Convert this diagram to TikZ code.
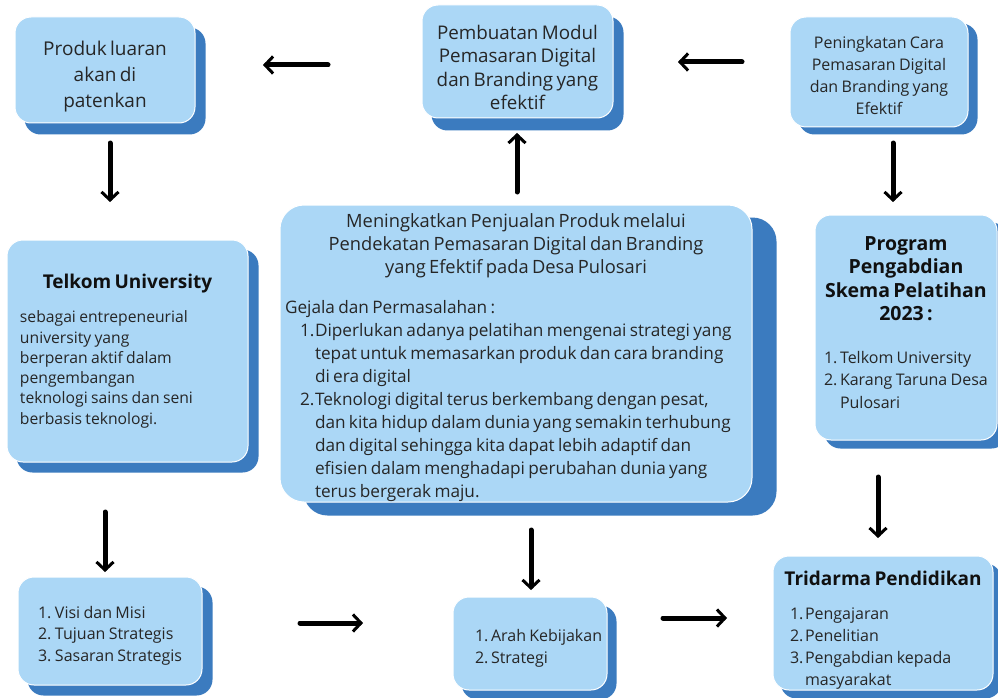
\documentclass[tikz,border=0pt]{standalone}
\usepackage{fontspec}
\setmainfont{Open Sans}
\usetikzlibrary{arrows.meta,backgrounds}
\definecolor{boxfill}{HTML}{ABD7F6}
\definecolor{boxshade}{HTML}{3B7BBF}
\definecolor{txt}{HTML}{262626}
\definecolor{ttl}{HTML}{101010}
\newcommand{\numitem}[3]{\par\hangindent=#1\hangafter=1\noindent\makebox[#1][l]{#2}#3}
\newcommand{\cardshadow}[4]{\fill[boxshade, rounded corners=#4] ([shift={(#2,#3)}]#1.north west) rectangle ([shift={(#2,#3)}]#1.south east);}

\begin{document}
\begin{tikzpicture}[x=1pt,y=-1pt,
  card/.style={fill=boxfill, draw=white, line width=1pt, rounded corners=16pt, text=txt, inner sep=0pt},
  flow/.style={line width=5pt, line cap=round, -{Straight Barb[length=8pt,width=17pt,line width=3pt]}, black},
]
\useasboundingbox (0,0) rectangle (998,698);

% boxes
\node[card, minimum width=180pt, minimum height=106pt, text width=172pt] (b1) at (105,70) {%
  {\centering\fontsize{19}{26}\selectfont Produk luaran\\akan di\\patenkan\par}\vspace{-14pt}};
\node[card, minimum width=191pt, minimum height=113pt, text width=187pt] (b2) at (517.5,61.5) {%
  {\centering\fontsize{18.8}{23.5}\selectfont Pembuatan Modul\\Pemasaran Digital\\dan Branding yang\\efektif\par}\vspace{-12pt}};
\node[card, minimum width=178pt, minimum height=110pt, text width=172pt] (b3) at (879,72) {%
  {\centering\fontsize{16}{22}\selectfont Peningkatan Cara\\Pemasaran Digital\\dan Branding yang\\Efektif\par}\vspace{-8pt}};

\node[card, minimum width=241pt, minimum height=222pt, text width=225pt] (b4) at (127.5,351) {%
  {\centering\color{ttl}\bfseries\fontsize{19}{22}\selectfont Telkom University\par}
  \vspace{14pt}
  {\raggedright\leftskip=5pt\fontsize{15.7}{20.3}\selectfont sebagai entrepeneurial\\university yang\\berperan aktif dalam\\pengembangan\\teknologi sains dan seni\\berbasis teknologi.\par}};

\node[card, rounded corners=24pt, minimum width=472pt, minimum height=297pt, text width=462pt] (b5) at (516,353.5) {%
  {\centering\fontsize{18.3}{23}\selectfont Meningkatkan Penjualan Produk melalui\\Pendekatan Pemasaran Digital dan Branding\\yang Efektif pada Desa Pulosari\par}
  \vspace{17pt}
  {\raggedright\fontsize{17.2}{23}\selectfont Gejala dan Permasalahan :\par}
  {\fontsize{17.2}{23}\selectfont\leftskip=15pt\rightskip=8pt
  \numitem{15pt}{1.}{Diperlukan adanya pelatihan mengenai strategi yang\linebreak tepat untuk memasarkan produk dan cara branding\linebreak di era digital}
  \numitem{15pt}{2.}{Teknologi digital terus berkembang dengan pesat,\linebreak dan kita hidup dalam dunia yang semakin terhubung\linebreak dan digital sehingga kita dapat lebih adaptif dan\linebreak efisien dalam menghadapi perubahan dunia yang\linebreak terus bergerak maju.}\par}
  \vspace{-8pt}};

\node[card, minimum width=182pt, minimum height=225pt, text width=176pt] (b6) at (906,327.5) {%
  {\centering\color{ttl}\bfseries\fontsize{19.5}{23.5}\selectfont Program\\Pengabdian\\Skema Pelatihan\\2023 :\par}
  \vspace{20pt}
  {\fontsize{16}{22.5}\selectfont\raggedright\leftskip=6pt
  \numitem{16pt}{1.}{Telkom University}
  \numitem{16pt}{2.}{Karang Taruna\ Desa Pulosari}\par}
  \vspace{10pt}};

\node[card, minimum width=184pt, minimum height=108pt, text width=164pt] (b7) at (110,631) {%
  {\fontsize{16}{21.5}\selectfont\raggedright\leftskip=10pt
  \numitem{17pt}{1.}{Visi dan Misi}
  \numitem{17pt}{2.}{Tujuan Strategis}
  \numitem{17pt}{3.}{Sasaran Strategis}\par}};

\node[card, minimum width=154pt, minimum height=93pt, text width=148pt] (b8) at (530,643.5) {%
  {\fontsize{16}{22}\selectfont\raggedright\leftskip=19pt
  \numitem{16pt}{1.}{Arah Kebijakan}
  \numitem{16pt}{2.}{Strategi}\par}};

\node[card, minimum width=220pt, minimum height=134pt, text width=206pt] (b9) at (883,623) {%
  {\centering\color{ttl}\bfseries\fontsize{19}{22}\selectfont Tridarma Pendidikan\par}
  \vspace{12pt}
  {\fontsize{16}{22}\selectfont\raggedright\leftskip=10pt
  \numitem{15pt}{1.}{Pengajaran}
  \numitem{15pt}{2.}{Penelitian}
  \numitem{15pt}{3.}{Pengabdian kepada masyarakat}\par}
  \vspace{-14pt}};

% shadows
\begin{scope}[on background layer]
  \fill[white] (0,0) rectangle (998,698);
  \cardshadow{b1}{10}{11}{16pt}
  \cardshadow{b2}{10}{12}{16pt}
  \cardshadow{b3}{9}{7}{16pt}
  \cardshadow{b4}{10}{10}{16pt}
  \cardshadow{b5}{24}{13}{24pt}
  \cardshadow{b6}{10}{8}{16pt}
  \cardshadow{b7}{10}{10}{16pt}
  \cardshadow{b8}{9}{9}{16pt}
  \cardshadow{b9}{8}{8}{16pt}
\end{scope}

% connector ends
\coordinate (a1s) at (328,65);  \coordinate (a1e) at (263,65);
\coordinate (a2s) at (742,62);  \coordinate (a2e) at (678,62);
\coordinate (a3s) at (110,143); \coordinate (a3e) at (110,202);
\coordinate (a4s) at (517,192); \coordinate (a4e) at (517,133);
\coordinate (a5s) at (893,143); \coordinate (a5e) at (893,202);
\coordinate (a6s) at (105,512); \coordinate (a6e) at (105,572);
\coordinate (a7s) at (300,623); \coordinate (a7e) at (363,623);
\coordinate (a8s) at (531,530); \coordinate (a8e) at (531,590);
\coordinate (a9s) at (663,618); \coordinate (a9e) at (727,618);
\coordinate (a10s) at (878,477); \coordinate (a10e) at (878,538);

\draw[flow] (a1s) -- (a1e);
\draw[flow] (a2s) -- (a2e);
\draw[flow] (a3s) -- (a3e);
\draw[flow] (a4s) -- (a4e);
\draw[flow] (a5s) -- (a5e);
\draw[flow] (a6s) -- (a6e);
\draw[flow] (a7s) -- (a7e);
\draw[flow] (a8s) -- (a8e);
\draw[flow] (a9s) -- (a9e);
\draw[flow] (a10s) -- (a10e);
\end{tikzpicture}
\end{document}
